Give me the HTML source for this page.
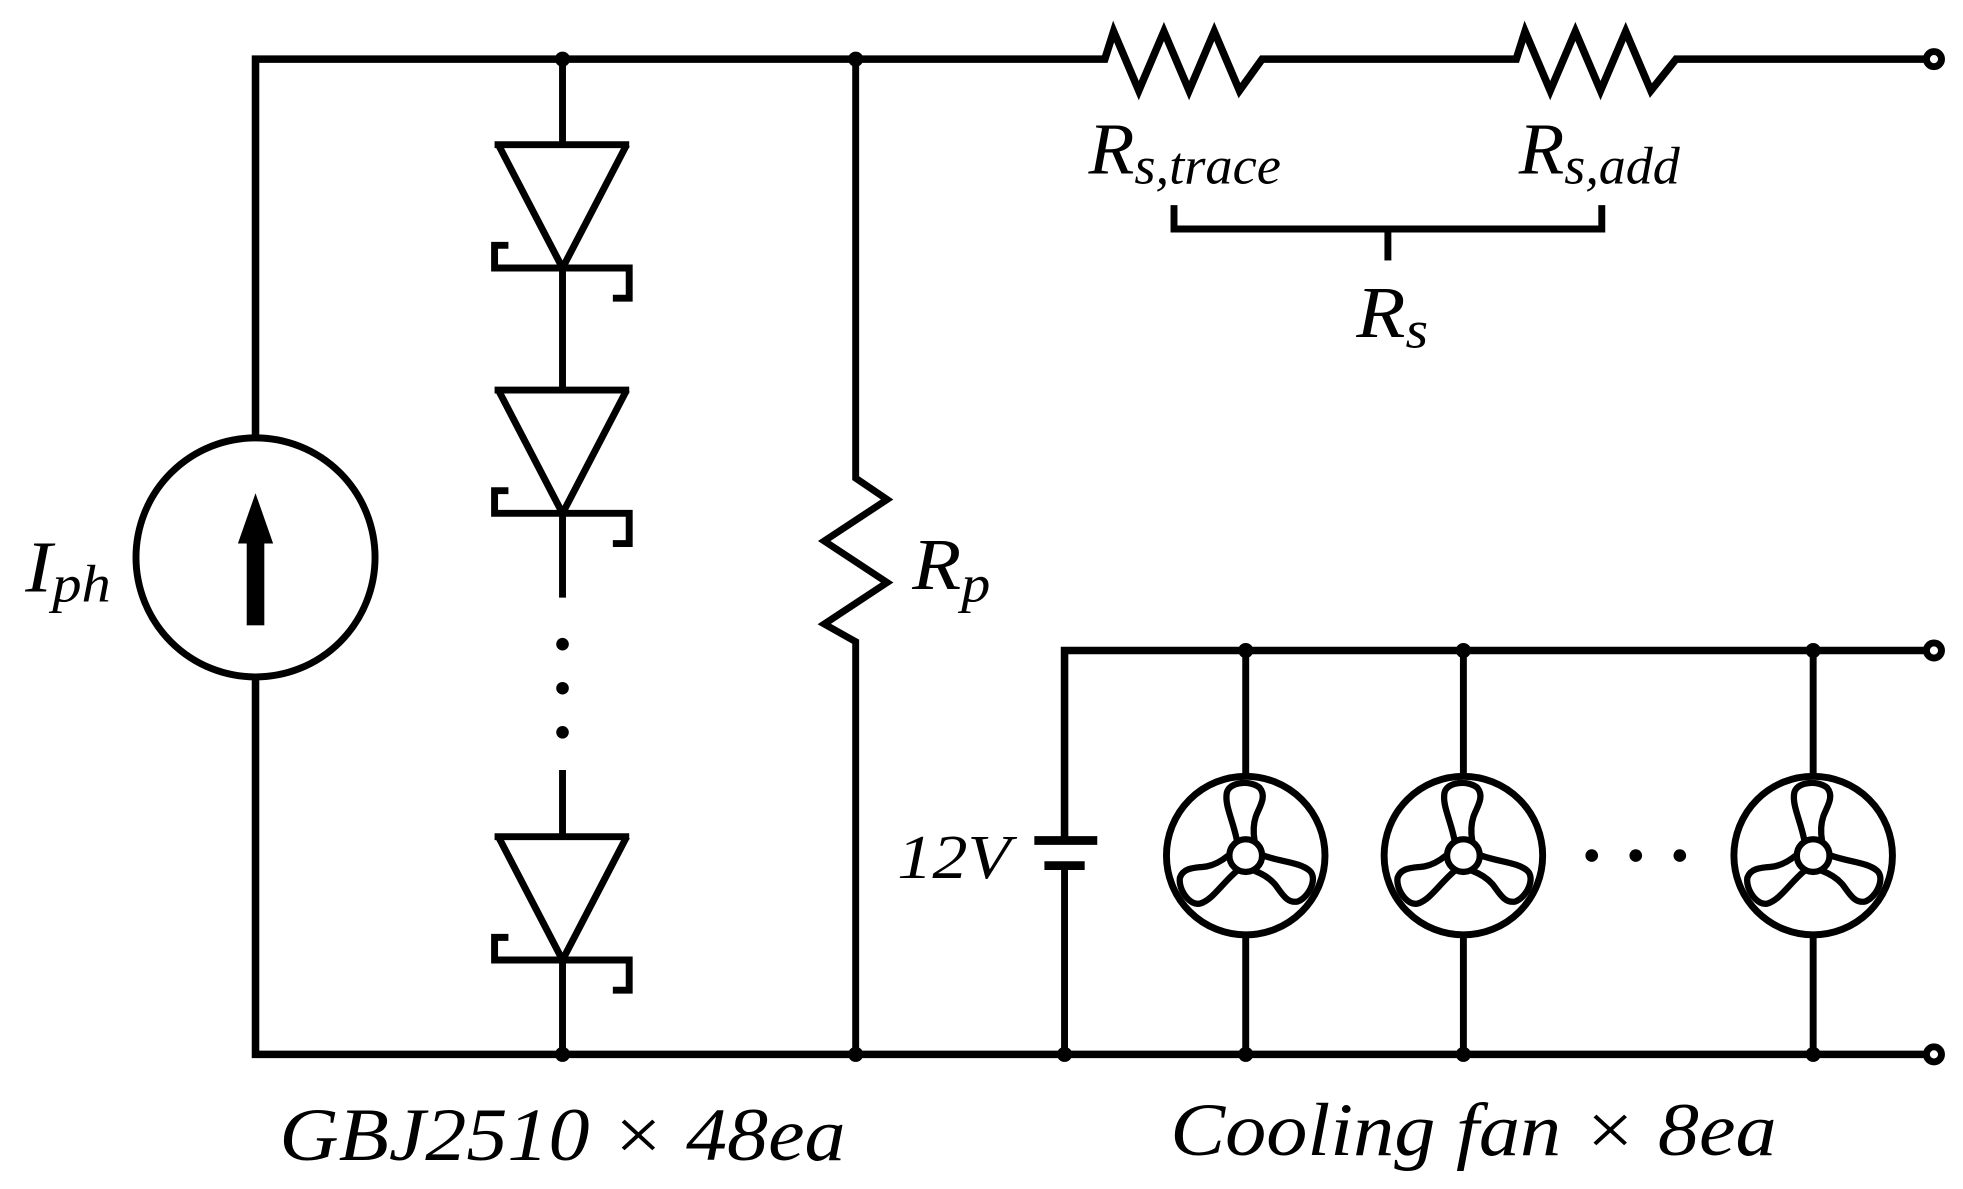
<!DOCTYPE html>
<html><head><meta charset="utf-8"><style>html,body{margin:0;padding:0;background:#fff}svg{display:block}.t{font-family:"Liberation Serif","Times New Roman",serif;font-style:italic}</style></head>
<body>
<svg width="1963" height="1189" viewBox="0 0 1560 945" xmlns="http://www.w3.org/2000/svg">
<defs>
<g id="diode" fill="none" stroke="#000" stroke-width="5.5">
<path d="M393,0 H500 M396,0 L447,98 L498,0"/>
<path d="M404,80 H393 V98 H500 V122 H487"/>
</g>
<g id="blade"><path d="M-7,-12 C-10,-28 -17,-40 -15,-50 C-13,-59 4,-60 11,-54 C17,-47 11,-39 8,-31 C6,-25 6,-18 7,-12" fill="none" stroke="#000" stroke-width="5"/></g>
<g id="fan">
<circle cx="0" cy="0" r="63" fill="none" stroke="#000" stroke-width="5.5"/>
<use href="#blade"/><use href="#blade" transform="rotate(120)"/><use href="#blade" transform="rotate(240)"/>
<circle cx="0" cy="0" r="13" fill="#fff" stroke="#000" stroke-width="5"/>
</g>
</defs>
<g fill="none" stroke="#000" stroke-width="5.5">
<polyline points="203,348 203,47 878,47 885,25 905,72 925,25 945,72 965,25 985,72 1003,47 1205,47 1212,25 1232,72 1252,25 1272,72 1292,25 1312,72 1332,47 1530,47" stroke-width="6"/>
<polyline points="203,538 203,838 1530,838" stroke-width="6"/>
<circle cx="203" cy="443" r="95"/>
<line x1="447" y1="47" x2="447" y2="115"/>
<line x1="447" y1="213" x2="447" y2="310"/>
<line x1="447" y1="408" x2="447" y2="475"/>
<line x1="447" y1="612" x2="447" y2="665"/>
<line x1="447" y1="762" x2="447" y2="838"/>
<polyline points="680,47 680,380 705,397 655,430 705,463 655,496 680,510 680,838"/>
<polyline points="933,163 933,182 1273,182 1273,163"/>
<line x1="1103" y1="182" x2="1103" y2="207"/>
<polyline points="846,668 846,517 1530,517" stroke-width="6"/>
<line x1="846" y1="688" x2="846" y2="838"/>
<line x1="822" y1="668" x2="872" y2="668" stroke-width="7"/>
<line x1="830" y1="688" x2="862" y2="688" stroke-width="7"/>
<line x1="990" y1="517" x2="990" y2="617"/><line x1="990" y1="743" x2="990" y2="838"/>
<line x1="1163" y1="517" x2="1163" y2="617"/><line x1="1163" y1="743" x2="1163" y2="838"/>
<line x1="1441" y1="517" x2="1441" y2="617"/><line x1="1441" y1="743" x2="1441" y2="838"/>
<circle cx="1537" cy="47" r="6"/><circle cx="1537" cy="517" r="6"/><circle cx="1537" cy="838" r="6"/>
</g>
<use href="#diode" transform="translate(0,115)"/>
<use href="#diode" transform="translate(0,310)"/>
<use href="#diode" transform="translate(0,665)"/>
<use href="#fan" transform="translate(990,680)"/>
<use href="#fan" transform="translate(1163,680)"/>
<use href="#fan" transform="translate(1441,680)"/>
<rect x="196" y="430" width="14" height="67" fill="#000"/>
<polygon points="203,392 189,432 217,432" fill="#000"/>
<g fill="#000">
<circle cx="447" cy="47" r="6"/><circle cx="680" cy="47" r="6"/>
<circle cx="447" cy="838" r="6"/><circle cx="680" cy="838" r="6"/>
<circle cx="846" cy="838" r="6"/>
<circle cx="990" cy="517" r="6"/><circle cx="1163" cy="517" r="6"/><circle cx="1441" cy="517" r="6"/>
<circle cx="990" cy="838" r="6"/><circle cx="1163" cy="838" r="6"/><circle cx="1441" cy="838" r="6"/>
<circle cx="447" cy="512" r="5"/><circle cx="447" cy="547" r="5"/><circle cx="447" cy="582" r="5"/>
<circle cx="1265" cy="680" r="5"/><circle cx="1300" cy="680" r="5"/><circle cx="1335" cy="680" r="5"/>
</g>
<g class="t" fill="#000">
<text x="20" y="470" font-size="58" textLength="68" lengthAdjust="spacingAndGlyphs">I<tspan font-size="42" dy="8">ph</tspan></text>
<text x="725" y="468" font-size="58" textLength="62" lengthAdjust="spacingAndGlyphs">R<tspan font-size="42" dy="10">p</tspan></text>
<text x="865" y="138" font-size="58" textLength="153" lengthAdjust="spacingAndGlyphs">R<tspan font-size="42" dy="8">s,trace</tspan></text>
<text x="1207" y="138" font-size="58" textLength="128" lengthAdjust="spacingAndGlyphs">R<tspan font-size="42" dy="8">s,add</tspan></text>
<text x="1078" y="268" font-size="58" textLength="57" lengthAdjust="spacingAndGlyphs">R<tspan font-size="42" dy="8">s</tspan></text>
<text x="713" y="698" font-size="50" textLength="90" lengthAdjust="spacingAndGlyphs">12V</text>
<text x="222" y="922" font-size="60" textLength="450" lengthAdjust="spacingAndGlyphs">GBJ2510 × 48ea</text>
<text x="930" y="918" font-size="60" textLength="482" lengthAdjust="spacingAndGlyphs">Cooling fan × 8ea</text>
</g>
</svg>
</body></html>
